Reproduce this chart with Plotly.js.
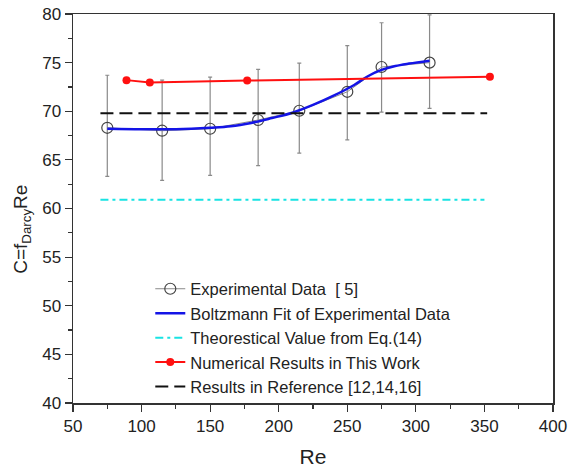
<!DOCTYPE html>
<html>
<head>
<meta charset="utf-8">
<script src="https://cdn.plot.ly/plotly-3.0.1.min.js"></script>
<style>
html,body{margin:0;padding:0;background:#fff;}
#chart{width:570px;height:474px;}
</style>
</head>
<body>
<div id="chart"></div>
<script>
// Experimental data [5]
const expRe = [75, 115, 150, 185, 215, 250, 275, 310];
const expC = [68.3, 68.0, 68.2, 69.1, 70.05, 72.0, 74.55, 75.0];
const expErrPlus = [5.4, 5.2, 5.3, 5.2, 4.9, 4.75, 4.55, 4.9];
const expErrMinus = [5.0, 5.1, 4.8, 4.7, 4.35, 4.95, 4.65, 4.7];

// Boltzmann fit
const fitRe = [75, 100, 125, 150, 165, 180, 195, 210, 225, 240, 255, 265, 275, 285, 295, 310];
const fitC = [68.2, 68.15, 68.15, 68.3, 68.45, 68.8, 69.3, 69.85, 70.65, 71.6, 72.7, 73.6, 74.25, 74.65, 74.9, 75.2];

// Theoretical value from Eq.(14)
const theoRe = [70, 350];
const theoC = [60.9, 60.9];

// Numerical results in this work
const numRe = [89, 106, 177, 354];
const numC = [73.2, 72.95, 73.15, 73.55];

// Results in reference [12,14,16]
const refRe = [70, 352];
const refC = [69.8, 69.8];

// Axis titles
const xTitle = 'Re';
const yTitle = 'C=f<sub>Darcy</sub>Re';

const FONT = 'Liberation Sans, Arial, Helvetica, sans-serif';

const traces = [
  {
    x: expRe, y: expC, type: 'scatter', mode: 'lines+markers',
    name: 'Experimental Data  [ 5]',
    line: {color: '#8a8a8a', width: 1},
    marker: {symbol: 'circle-open', size: 11, color: '#444', line: {width: 1.2, color: '#444'}},
    error_y: {type: 'data', symmetric: false, array: expErrPlus, arrayminus: expErrMinus,
              color: '#8a8a8a', thickness: 1.2, width: 2}
  },
  {
    x: fitRe, y: fitC, type: 'scatter', mode: 'lines',
    name: 'Boltzmann Fit of Experimental Data',
    line: {color: '#1414e6', width: 2.5, shape: 'spline'}
  },
  {
    x: theoRe, y: theoC, type: 'scatter', mode: 'lines',
    name: 'Theorestical Value from Eq.(14)',
    line: {color: '#19e3e3', width: 2, dash: '8px,4px,3px,4px'}
  },
  {
    x: numRe, y: numC, type: 'scatter', mode: 'lines+markers',
    name: 'Numerical Results in This Work',
    line: {color: '#ff1010', width: 2},
    marker: {symbol: 'circle', size: 8, color: '#ff1010'}
  },
  {
    x: refRe, y: refC, type: 'scatter', mode: 'lines',
    name: 'Results in Reference [12,14,16]',
    line: {color: '#111', width: 2, dash: '13px,6px'}
  }
];

const axisCommon = {
  showline: true, mirror: true, linecolor: '#333', linewidth: 1.5,
  showgrid: false, zeroline: false,
  ticks: 'outside', ticklen: 7, tickwidth: 1.2, tickcolor: '#333',
  tickfont: {family: FONT, size: 17, color: '#222'}
};

const layout = {
  width: 570, height: 474,
  margin: {l: 73, r: 17, t: 14, b: 71},
  paper_bgcolor: '#fff', plot_bgcolor: '#fff',
  font: {family: FONT, color: '#222'},
  showlegend: true,
  legend: {
    x: 0.161, y: 0.338, xanchor: 'left', yanchor: 'top',
    bgcolor: 'rgba(0,0,0,0)', borderwidth: 0,
    font: {family: FONT, size: 16.5, color: '#222'}
  },
  xaxis: Object.assign({}, axisCommon, {
    range: [50, 400], dtick: 50, tick0: 50,
    minor: {dtick: 25, ticks: 'outside', ticklen: 4, tickcolor: '#333', tickwidth: 1.2},
    title: {text: xTitle, font: {family: FONT, size: 21, color: '#222'}, standoff: 14}
  }),
  yaxis: Object.assign({}, axisCommon, {
    range: [40, 80], dtick: 5, tick0: 40,
    minor: {dtick: 2.5, ticks: 'outside', ticklen: 4, tickcolor: '#333', tickwidth: 1.2}
  }),
  annotations: [{
    text: yTitle, xref: 'paper', yref: 'paper',
    x: -0.107, y: 0.447, xanchor: 'center', yanchor: 'middle',
    textangle: -90, showarrow: false,
    font: {family: FONT, size: 19, color: '#222'}
  }]
};

Plotly.newPlot('chart', traces, layout, {displayModeBar: false, staticPlot: true});
</script>
</body>
</html>
